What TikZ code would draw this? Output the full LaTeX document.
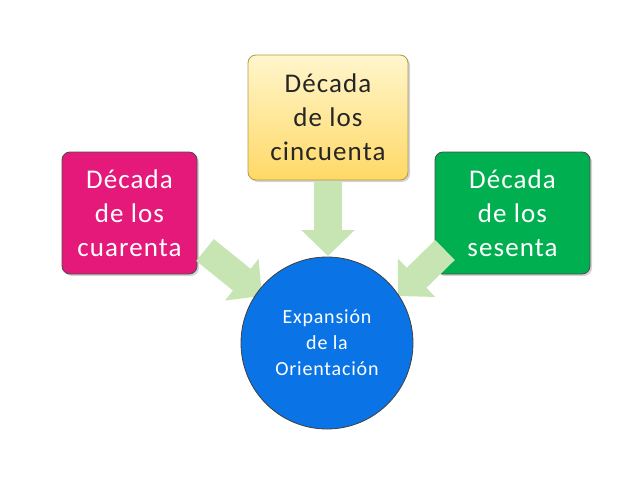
\documentclass[tikz,border=0pt]{standalone}
\usepackage{fontspec}
\setmainfont{Carlito}[LetterSpace=4]
\usetikzlibrary{arrows.meta,shadows}
\definecolor{pinkbox}{HTML}{E5197A}
\definecolor{greenbox}{HTML}{00B050}
\definecolor{bluec}{HTML}{0A74E6}
\definecolor{arr}{HTML}{C6E5B3}
\definecolor{yel1}{HTML}{FFF6CC}
\definecolor{yel2}{HTML}{FFD966}
\tikzset{
 box/.style={rounded corners=8pt, minimum width=135pt, minimum height=122pt, draw=black!70, line width=0.8pt, align=center, font=\fontsize{27}{34}\selectfont, drop shadow={opacity=0.35, shadow xshift=2pt, shadow yshift=-2pt}},
 barr/.style={arr, line width=28pt, -{Triangle[width=52pt,length=26pt]}}
}
\begin{document}
\begin{tikzpicture}[x=1pt,y=-1pt]
\useasboundingbox (0,0) rectangle (638,479);
\node[box, fill=pinkbox, text=white] (l) at (129.5,213) {Década\\de los\\cuarenta};
\node[box, minimum width=160pt, minimum height=125pt, top color=yel1, bottom color=yel2, draw=yel2!70!black, text=black!85] (t) at (328,117.5) {Década\\de los\\cincuenta};
\node[box, minimum width=155pt, fill=greenbox, text=white] (r) at (512.5,213) {Década\\de los\\sesenta};
\coordinate (la) at (205,250);
\coordinate (lb) at (262,296);
\coordinate (ra) at (445,250);
\coordinate (rb) at (398,296);
\coordinate (ta) at (328,181);
\coordinate (tb) at (328,256);
\draw[barr] (ta) -- (tb);
\draw[barr] (la) -- (lb);
\draw[barr] (ra) -- (rb);
\node[circle, fill=bluec, draw=black!75, line width=0.8pt, minimum size=172pt, text=white, align=center, font=\fontsize{20}{26}\selectfont] (c) at (327,343) {Expansión\\de la\\Orientación};
\end{tikzpicture}
\end{document}
